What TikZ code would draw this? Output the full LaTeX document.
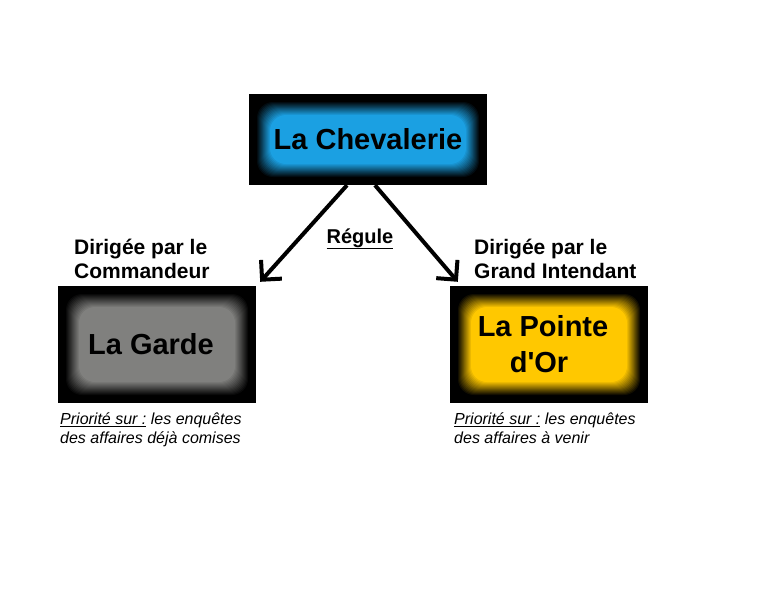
\documentclass[tikz,border=0pt]{standalone}
\usepackage{fontspec}
\setmainfont{Liberation Sans}
\usetikzlibrary{arrows.meta}
\definecolor{chevblue}{RGB}{27,160,226}
\definecolor{gardegray}{RGB}{128,128,126}
\definecolor{pointeyellow}{RGB}{255,200,0}
\tikzset{
  glowbox/.style={fill=black, inner sep=0pt,
    path picture={
      \foreach \i in {0,...,14}{
        \pgfmathsetmacro\d{7+\i}
        \pgfmathtruncatemacro\p{\i*100/14}
        \fill[#1!\p!black, rounded corners=16pt]
          ([xshift=\d pt,yshift=\d pt]path picture bounding box.south west) rectangle
          ([xshift=-\d pt,yshift=-\d pt]path picture bounding box.north east);
      }
    }},
  boxtext/.style={font=\bfseries\fontsize{29}{36}\selectfont, text=black, align=center},
  lbl/.style={font=\bfseries\fontsize{21}{24}\selectfont, align=left, inner sep=0pt},
  prio/.style={font=\itshape\fontsize{16}{19}\selectfont, align=left, inner sep=0pt},
  arrowline/.style={line width=4pt, -{Straight Barb[length=14pt,width=28pt]}}
}
\begin{document}
\begin{tikzpicture}[x=1pt,y=-1pt]
\fill[white] (0,0) rectangle (775,595);
\useasboundingbox (0,0) rectangle (775,595);

\node[glowbox=chevblue, boxtext, minimum width=238pt, minimum height=91pt] (chev) at (368,139.5) {La Chevalerie};
\node[glowbox=gardegray, boxtext, minimum width=198pt, minimum height=117pt] (garde) at (157,344.5) {\raisebox{-2pt}{La Garde}\hspace*{12pt}};
\node[glowbox=pointeyellow, boxtext, minimum width=198pt, minimum height=117pt] (pointe) at (549,344.5) {La Pointe\hspace*{12pt}\\d\textquotesingle Or\hspace*{20pt}};

\node[lbl, anchor=north west] (dirg) at (74,239) {Dirigée par le\\Commandeur};
\node[lbl, anchor=north west] (dirp) at (474,239) {Dirigée par le\\Grand Intendant};

\node[prio, anchor=north west] (priog) at (60,413) {\underline{Priorité sur :} les enquêtes\\des affaires déjà comises};
\node[prio, anchor=north west] (priop) at (454,413) {\underline{Priorité sur :} les enquêtes\\des affaires à venir};

\node[font=\bfseries\fontsize{20}{24}\selectfont, anchor=base, inner sep=0pt] (reg) at (360,243) {\underline{Régule}};

\draw[arrowline] ([xshift=-21pt]chev.south) -- ([xshift=4pt,yshift=4pt]garde.north east);
\draw[arrowline] ([xshift=7pt]chev.south) -- ([xshift=8pt,yshift=4pt]pointe.north west);
\end{tikzpicture}
\end{document}
